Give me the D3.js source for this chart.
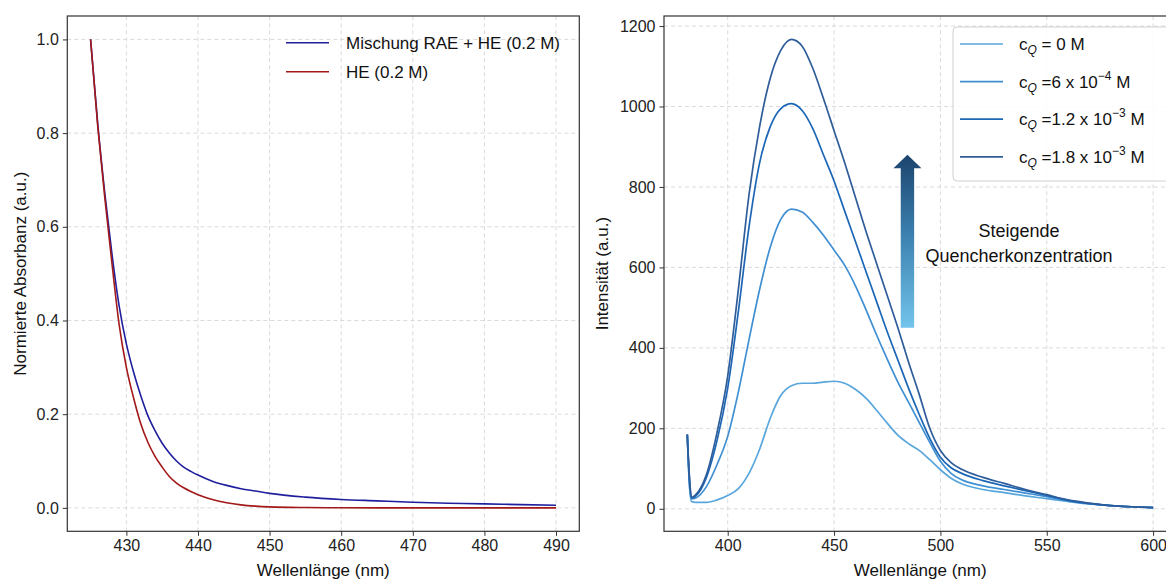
<!DOCTYPE html>
<html>
<head>
<meta charset="utf-8">
<script src="https://cdn.jsdelivr.net/npm/d3@7"></script>
<style>
    body { margin: 0; background: #fff; }
    svg { font-family: "Liberation Sans", Arial, sans-serif; }
    .tick text { font-size: 16px; fill: #222; }
    .tick line { stroke: #333; }
    .axisLabel { font-size: 17px; fill: #111; }
</style>
</head>
<body>
<div id="chart"></div>
<script>
// absorbance (left panel)
var absX = [425, 426, 427, 428, 429, 430, 431, 432, 433, 434, 435, 436, 437, 438, 439, 440,
    442, 444, 446, 448, 450, 455, 460, 465, 470, 475, 480, 485, 490];
var absMischung = [1.0, 0.82, 0.67, 0.54, 0.43, 0.35, 0.29, 0.24, 0.197, 0.165, 0.138, 0.117, 0.1, 0.087, 0.078, 0.07,
    0.057, 0.048, 0.041, 0.036, 0.031, 0.023, 0.018, 0.015, 0.012, 0.01, 0.0085, 0.007, 0.0055];
var absHE = [1.0, 0.815, 0.66, 0.52, 0.39, 0.3, 0.235, 0.18, 0.14, 0.11, 0.087, 0.067, 0.053, 0.043, 0.035, 0.028,
    0.018, 0.011, 0.0065, 0.0038, 0.0022, 0.0007, 0.0002, 0.0001, 0, 0, 0, 0, 0];
var absTicksX = [430, 440, 450, 460, 470, 480, 490];
var absTicksY = [0, 0.2, 0.4, 0.6, 0.8, 1.0];

// fluorescence (right panel)
var flX = [381, 382, 383, 385, 390, 395, 400, 405, 410, 415, 420, 425, 430, 435, 440, 445, 450, 455, 460,
    465, 470, 475, 480, 485, 490, 495, 500, 505, 510, 520, 530, 540, 550, 560, 570, 580, 590, 600];
var fl0 = [185, 60, 18, 16, 16, 22, 33, 50, 88, 148, 225, 282, 306, 312, 312, 315, 317, 312, 297,
    275, 245, 213, 183, 162, 145, 122, 97, 76, 62, 48, 40, 32, 25, 18, 12, 8, 5, 3];
var fl6e4 = [185, 62, 25, 27, 55, 110, 180, 290, 420, 545, 650, 720, 745, 738, 712, 680, 643, 605, 555,
    495, 432, 372, 315, 265, 215, 165, 118, 88, 72, 57, 48, 39, 30, 20, 13, 8, 5, 3];
var fl12e3 = [183, 75, 27, 32, 78, 170, 300, 490, 700, 860, 950, 995, 1007, 990, 945, 880, 815, 740, 665,
    590, 515, 440, 370, 300, 235, 175, 128, 102, 88, 70, 57, 45, 33, 21, 13, 8, 5, 3];
var fl18e3 = [185, 80, 28, 35, 85, 190, 330, 545, 780, 950, 1070, 1140, 1167, 1150, 1095, 1020, 940, 860, 775,
    690, 610, 530, 450, 365, 285, 200, 145, 115, 98, 78, 63, 48, 35, 22, 14, 8, 5, 3];
var flSeries = [fl0, fl6e4, fl12e3, fl18e3];
var flColors = ["#58a6dc", "#3f8fd2", "#1c66b6", "#2e5d9a"];
var flLabels = [["0", null], ["6", "\u22124"], ["1.2", "\u22123"], ["1.8", "\u22123"]];
var flTicksX = [400, 450, 500, 550, 600];
var flTicksY = [0, 200, 400, 600, 800, 1000, 1200];

var svgWidth = 1166;
var svgHeight = 580;

var svg = d3.select("#chart")
    .append("svg")
    .attr("width", svgWidth)
    .attr("height", svgHeight);

var defs = svg.append("defs");

function drawFrame(x, y, xTicks, yTicks, yFmt, xLabel, yLabel, yLabelX) {
    var x0 = x.range()[0], x1 = x.range()[1];
    var y0 = y.range()[0], y1 = y.range()[1];
    var g = svg.append("g");

    // dashed grid
    g.selectAll(".gx").data(xTicks).enter().append("line")
        .attr("x1", d => x(d)).attr("x2", d => x(d))
        .attr("y1", y0).attr("y2", y1)
        .attr("stroke", "#d6d6d6").attr("stroke-width", 0.9).attr("stroke-dasharray", "4,3");
    g.selectAll(".gy").data(yTicks).enter().append("line")
        .attr("x1", x0).attr("x2", x1)
        .attr("y1", d => y(d)).attr("y2", d => y(d))
        .attr("stroke", "#d6d6d6").attr("stroke-width", 0.9).attr("stroke-dasharray", "4,3");

    g.append("g")
        .attr("transform", `translate(0, ${y0})`)
        .call(d3.axisBottom(x).tickValues(xTicks).tickSize(4.5).tickPadding(4).tickSizeOuter(0))
        .call(a => a.select(".domain").remove());
    g.append("g")
        .attr("transform", `translate(${x0}, 0)`)
        .call(d3.axisLeft(y).tickValues(yTicks).tickFormat(yFmt).tickSize(4.5).tickPadding(4).tickSizeOuter(0))
        .call(a => a.select(".domain").remove());

    g.append("rect")
        .attr("x", x0).attr("y", y1)
        .attr("width", x1 - x0).attr("height", y0 - y1)
        .attr("fill", "none").attr("stroke", "#333").attr("stroke-width", 1.2);

    g.append("text")
        .attr("class", "axisLabel")
        .attr("x", (x0 + x1) / 2).attr("y", 576)
        .attr("text-anchor", "middle")
        .text(xLabel);
    g.append("text")
        .attr("class", "axisLabel")
        .attr("transform", `translate(${yLabelX}, ${(y0 + y1) / 2}) rotate(-90)`)
        .attr("text-anchor", "middle")
        .text(yLabel);
}

// ---------- left panel ----------
var xAbs = d3.scaleLinear().domain([421.75, 493.25]).range([67.3, 579.3]);
var yAbs = d3.scaleLinear().domain([-0.05, 1.05]).range([531.3, 16]);

drawFrame(xAbs, yAbs, absTicksX, absTicksY, d3.format(".1f"),
    "Wellenlänge (nm)", "Normierte Absorbanz (a.u.)", 26);

var absLine = d3.line()
    .x((d, i) => xAbs(absX[i]))
    .y(d => yAbs(d))
    .curve(d3.curveMonotoneX);

var absSeries = [
    { values: absMischung, color: "#1f1f9e", label: "Mischung RAE + HE (0.2 M)" },
    { values: absHE, color: "#a31818", label: "HE (0.2 M)" }
];

svg.selectAll(".absLine")
    .data(absSeries)
    .enter()
    .append("path")
    .attr("d", d => absLine(d.values))
    .attr("fill", "none")
    .attr("stroke", d => d.color)
    .attr("stroke-width", 1.6);

var absLegend = svg.append("g");
absSeries.forEach(function (s, i) {
    var ly = 42.7 + i * 29;
    absLegend.append("line")
        .attr("x1", 286).attr("x2", 329).attr("y1", ly).attr("y2", ly)
        .attr("stroke", s.color).attr("stroke-width", 1.6);
    absLegend.append("text")
        .attr("x", 346).attr("y", ly + 6)
        .attr("font-size", 17).attr("fill", "#111")
        .text(s.label);
});

// ---------- right panel ----------
var xFl = d3.scaleLinear().domain([370.05, 610.95]).range([664, 1176.4]);
var yFl = d3.scaleLinear().domain([-56, 1225]).range([531.3, 16]);

drawFrame(xFl, yFl, flTicksX, flTicksY, d3.format("d"),
    "Wellenlänge (nm)", "Intensität (a.u.)", 608);

var flLine = d3.line()
    .x((d, i) => xFl(flX[i]))
    .y(d => yFl(d))
    .curve(d3.curveMonotoneX);

svg.selectAll(".flLine")
    .data(flSeries)
    .enter()
    .append("path")
    .attr("d", d => flLine(d))
    .attr("fill", "none")
    .attr("stroke", (d, i) => flColors[i])
    .attr("stroke-width", 1.7);

// arrow with gradient
var grad = defs.append("linearGradient")
    .attr("id", "arrowGrad")
    .attr("x1", 0).attr("y1", 1).attr("x2", 0).attr("y2", 0);
grad.append("stop").attr("offset", "0%").attr("stop-color", "#72c4ec");
grad.append("stop").attr("offset", "55%").attr("stop-color", "#3b7fae");
grad.append("stop").attr("offset", "100%").attr("stop-color", "#1b446d");

var arrowX = 484.5, arrowFrom = 450, arrowTo = 880;
var ax = xFl(arrowX), ayBot = yFl(arrowFrom), ayTop = yFl(arrowTo);
var shaft = 6.7, head = 14, headLen = 13.5;
svg.append("path")
    .attr("d", `M${ax - shaft},${ayBot} L${ax - shaft},${ayTop + headLen} L${ax - head},${ayTop + headLen}
        L${ax},${ayTop} L${ax + head},${ayTop + headLen} L${ax + shaft},${ayTop + headLen} L${ax + shaft},${ayBot} Z`)
    .attr("fill", "url(#arrowGrad)");

svg.append("text")
    .attr("x", 1019).attr("y", 237)
    .attr("text-anchor", "middle").attr("font-size", 18).attr("fill", "#111")
    .text("Steigende");
svg.append("text")
    .attr("x", 1019).attr("y", 262)
    .attr("text-anchor", "middle").attr("font-size", 18).attr("fill", "#111")
    .text("Quencherkonzentration");

// legend
var flLegend = svg.append("g");
flLegend.append("rect")
    .attr("x", 953).attr("y", 27).attr("width", 220).attr("height", 154).attr("rx", 4)
    .attr("fill", "#fff").attr("fill-opacity", 0.85)
    .attr("stroke", "#d0d0d0").attr("stroke-width", 1);

flLabels.forEach(function (lab, i) {
    var ly = 44 + i * 37.6;
    flLegend.append("line")
        .attr("x1", 960).attr("x2", 1003).attr("y1", ly).attr("y2", ly)
        .attr("stroke", flColors[i]).attr("stroke-width", 1.7);
    var t = flLegend.append("text")
        .attr("x", 1019).attr("y", ly + 6)
        .attr("font-size", 17).attr("fill", "#111");
    t.append("tspan").text("c");
    t.append("tspan").attr("font-size", 12).attr("font-style", "italic").attr("dy", 4).text("Q");
    if (lab[1] === null) {
        t.append("tspan").attr("dy", -4).text(" = " + lab[0] + " M");
    } else {
        t.append("tspan").attr("dy", -4).text(" =" + lab[0] + " x 10");
        t.append("tspan").attr("font-size", 12).attr("dy", -8).text(lab[1]);
        t.append("tspan").attr("dy", 8).text(" M");
    }
});
</script>
</body>
</html>
